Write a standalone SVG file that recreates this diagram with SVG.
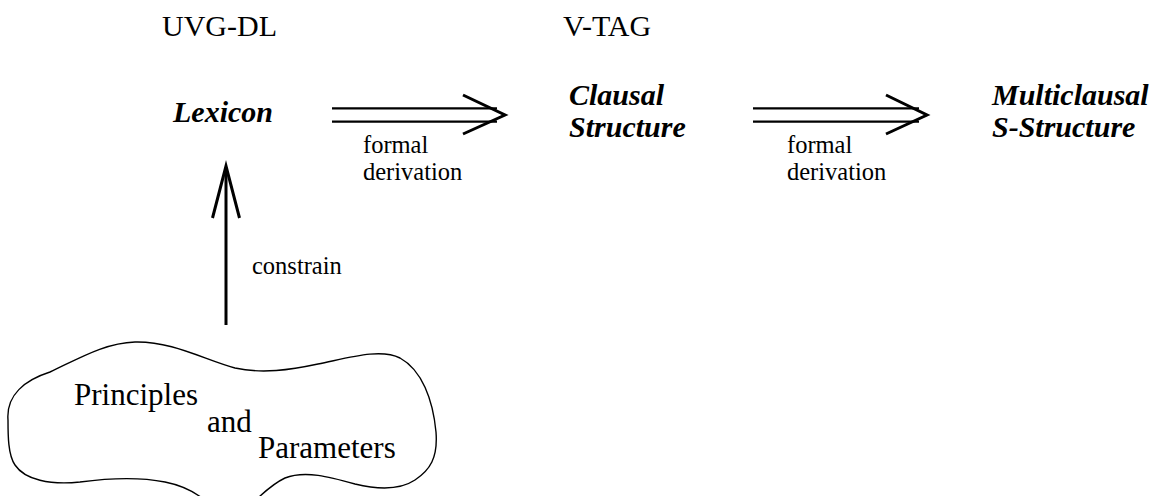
<svg xmlns="http://www.w3.org/2000/svg" width="1157" height="496" viewBox="0 0 1157 496">
  <style>
    .lbl { font-family: "Liberation Serif", "Times New Roman", "DejaVu Serif", serif; fill: #000; }
    .head { font-size: 30px; }
    .term { font-size: 30px; font-weight: bold; font-style: italic; }
    .small { font-size: 24.5px; }
    .cloudtxt { font-size: 31px; }
    .line { stroke: #000; fill: none; }
    .shaft { stroke-width: 2.2; }
    .tip { stroke-width: 3; stroke-linejoin: miter; }
  </style>
  <rect width="1157" height="496" fill="#fff"/>

  <!-- column headers -->
  <text class="lbl head" x="162" y="36">UVG-DL</text>
  <text class="lbl head" x="563" y="36">V-TAG</text>

  <g id="lexicon">
    <text class="lbl term" x="173" y="122">Lexicon</text>
  </g>

  <g id="clausal-structure">
    <text class="lbl term" x="569" y="105">Clausal</text>
    <text class="lbl term" x="569" y="137">Structure</text>
  </g>

  <g id="multiclausal-s-structure">
    <text class="lbl term" x="992" y="105">Multiclausal</text>
    <text class="lbl term" x="992" y="137">S-Structure</text>
  </g>

  <g id="principles-and-parameters">
    <path class="line" stroke-width="1.4" d="M 8 420
      C 6 395, 25 380, 50 372
      C 80 358, 105 343, 135 342
      C 172 341, 205 360, 235 368
      C 262 374, 290 370, 318 364
      C 348 358, 380 348, 400 358
      C 422 370, 433 400, 436 432
      C 438 458, 430 470, 415 480
      C 400 490, 380 490, 355 484
      C 330 477, 305 470, 285 478
      C 270 485, 262 495, 250 505
      L 210 505
      C 200 495, 185 486, 165 482
      C 140 477, 110 478, 80 482
      C 50 485, 25 480, 15 465
      C 8 455, 8 435, 8 420 Z"/>
    <text class="lbl cloudtxt" x="74" y="405">Principles</text>
    <text class="lbl cloudtxt" x="207" y="432">and</text>
    <text class="lbl cloudtxt" x="258" y="458">Parameters</text>
  </g>

  <g id="connectors">
    <!-- Lexicon => Clausal Structure -->
    <line class="line shaft" x1="332" y1="108.3" x2="497" y2="108.3"/>
    <line class="line shaft" x1="332" y1="121.7" x2="497" y2="121.7"/>
    <polyline class="line tip" points="463,95 505,115 463,134"/>
    <text class="lbl small" x="363" y="153">formal</text>
    <text class="lbl small" x="363" y="180">derivation</text>

    <!-- Clausal Structure => Multiclausal S-Structure -->
    <line class="line shaft" x1="753" y1="108.3" x2="919" y2="108.3"/>
    <line class="line shaft" x1="753" y1="121.7" x2="919" y2="121.7"/>
    <polyline class="line tip" points="886,95 927,115 886,134"/>
    <text class="lbl small" x="787" y="153">formal</text>
    <text class="lbl small" x="787" y="180">derivation</text>

    <!-- Principles and Parameters constrain the Lexicon -->
    <line class="line" stroke-width="3" x1="226" y1="325" x2="226" y2="170"/>
    <polyline class="line tip" points="212.5,218 226,166 239.5,218"/>
    <text class="lbl small" x="252" y="274">constrain</text>
  </g>
</svg>
